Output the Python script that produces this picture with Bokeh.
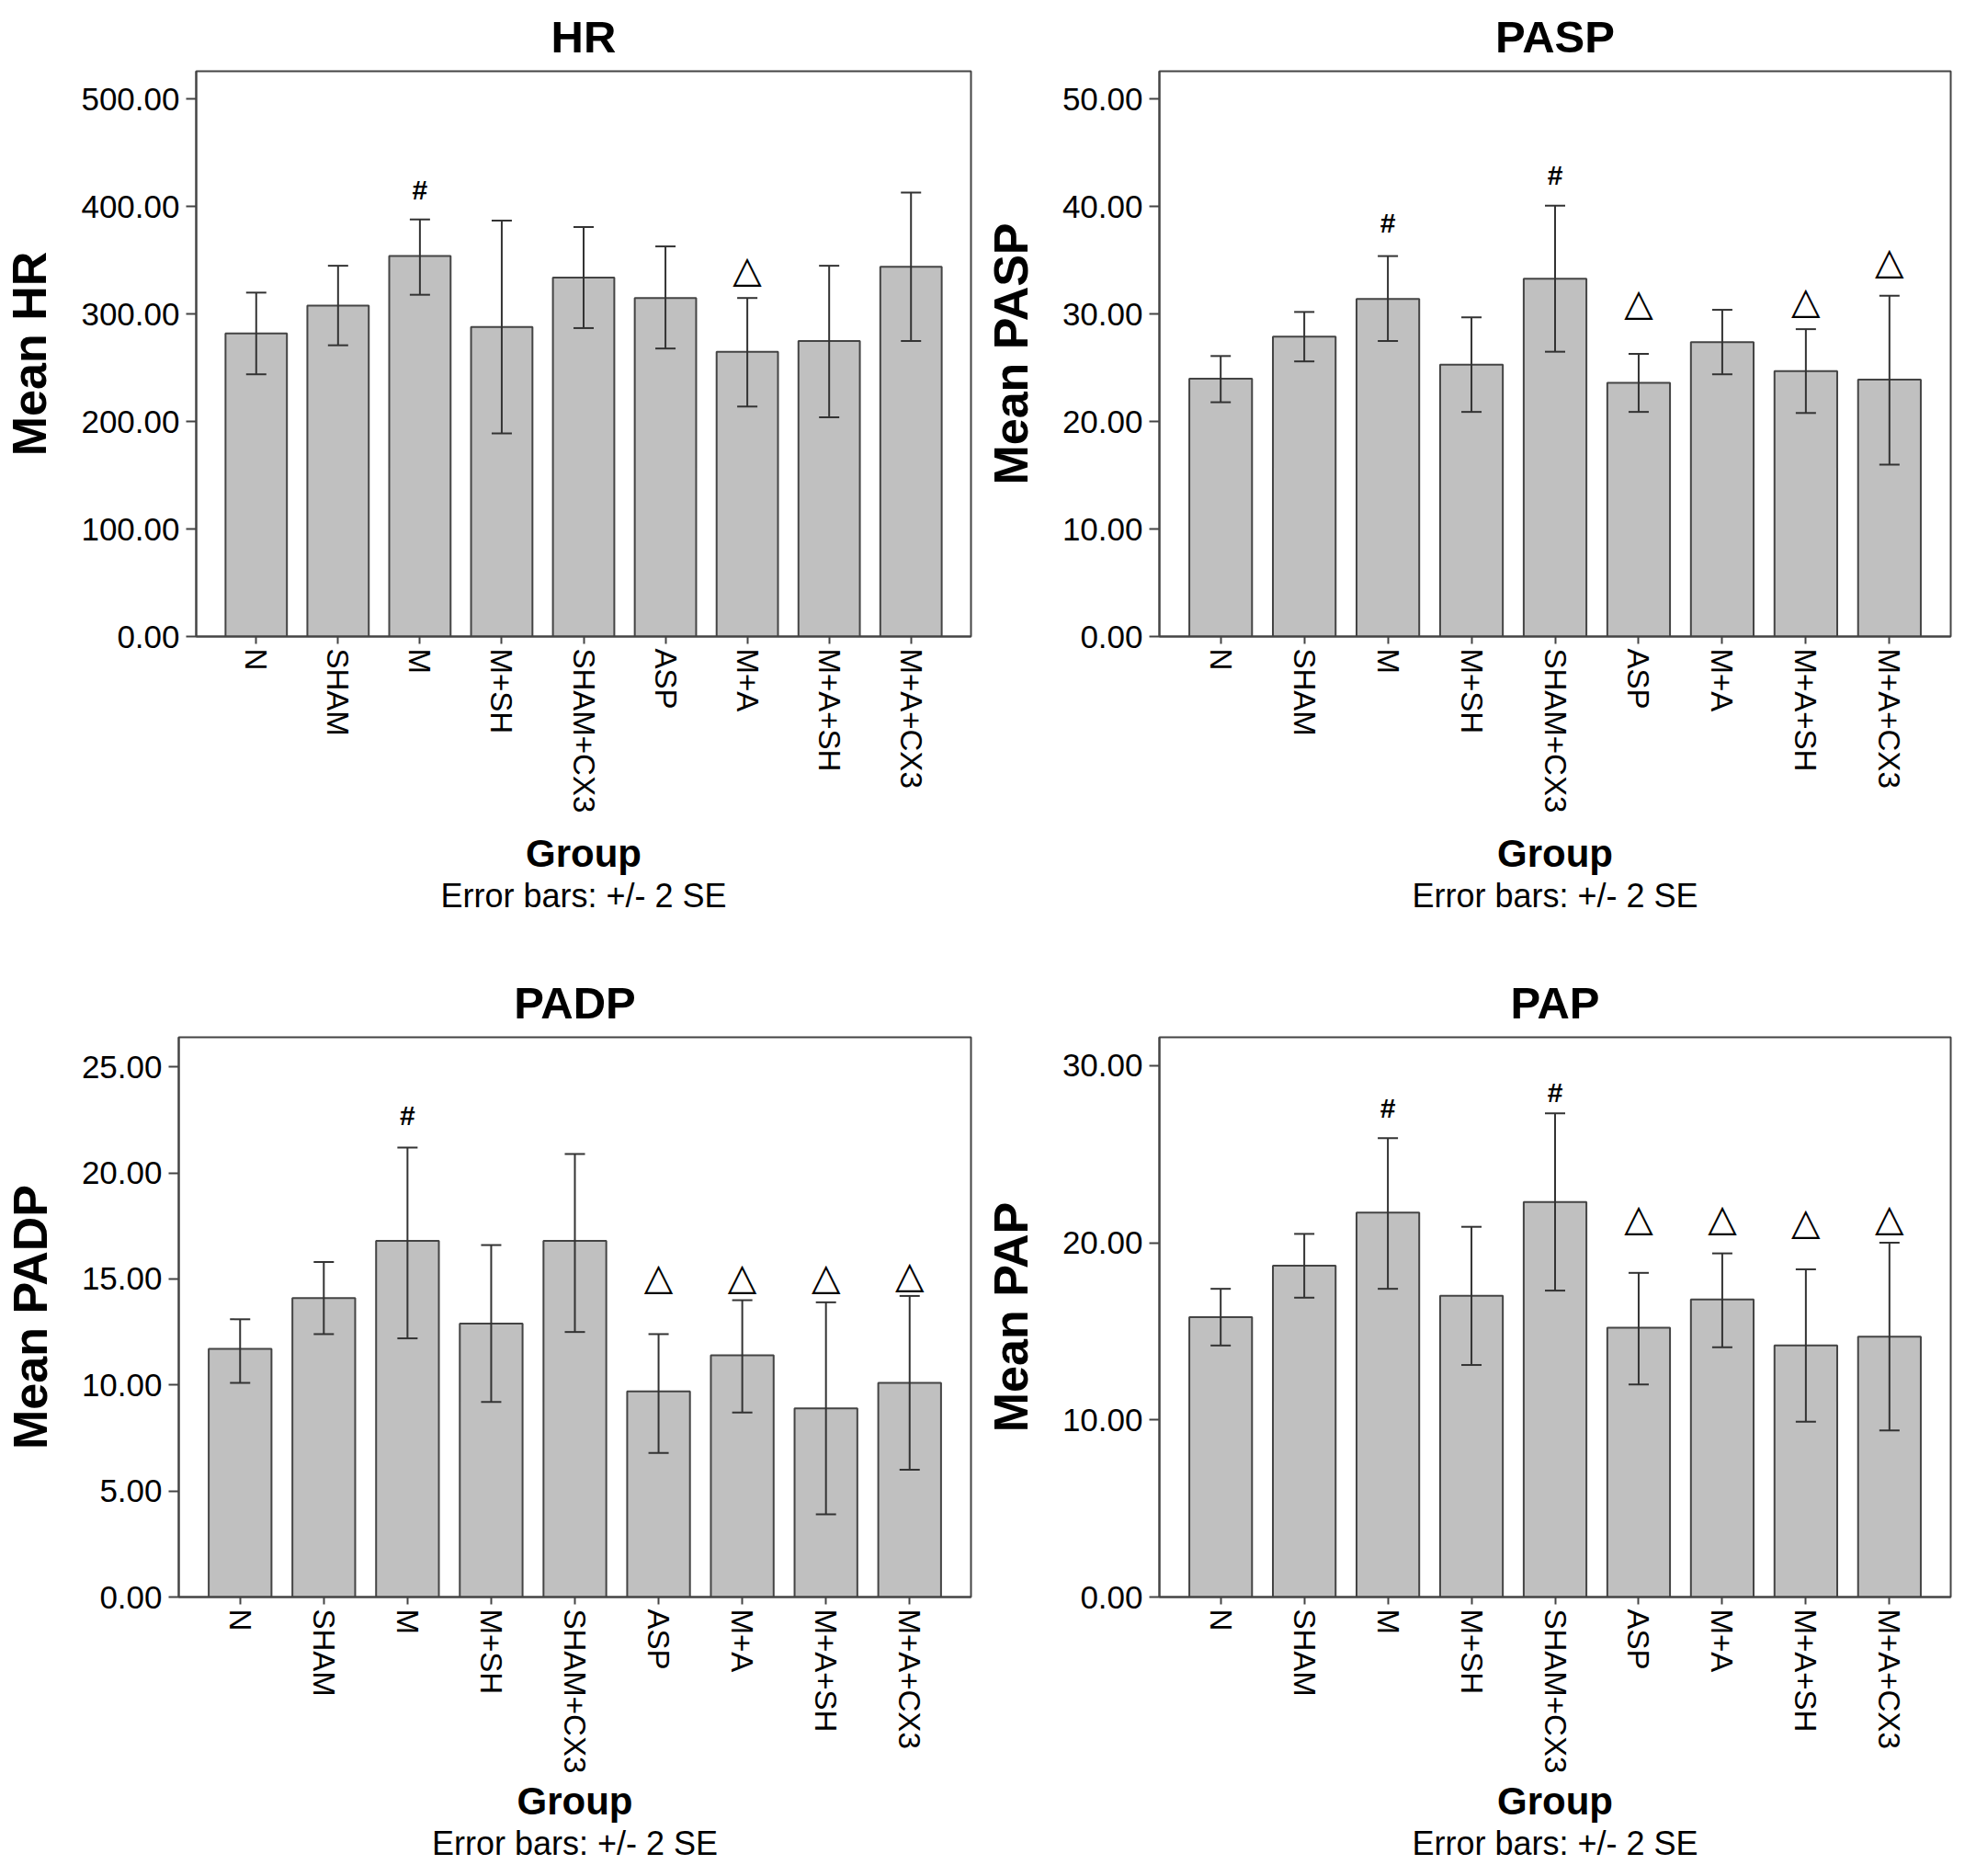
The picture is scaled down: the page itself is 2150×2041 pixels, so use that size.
import math
from bokeh.plotting import figure
from bokeh.layouts import column, row
from bokeh.models import ColumnDataSource, Whisker, TeeHead, FixedTicker, NumeralTickFormatter, Range1d, Title
from bokeh.core.properties import value
from bokeh.embed import file_html
from bokeh.resources import INLINE

groups = ["N", "SHAM", "M", "M+SH", "SHAM+CX3", "ASP", "M+A", "M+A+SH", "M+A+CX3"]

# HR
hr_mean = [282, 308, 354, 288, 334, 315, 265, 275, 344]
hr_upper = [320, 345, 388, 387, 381, 363, 315, 345, 413]
hr_lower = [244, 271, 318, 189, 287, 268, 214, 204, 275]
hr_ticks = [0, 100, 200, 300, 400, 500]
hr_mark_idx = [2, 6]
hr_mark_sym = ["#", "△"]
hr_mark_y = [416, 342]

# PASP
pasp_mean = [24.0, 27.9, 31.4, 25.3, 33.3, 23.6, 27.4, 24.7, 23.9]
pasp_upper = [26.1, 30.2, 35.4, 29.7, 40.1, 26.3, 30.4, 28.6, 31.7]
pasp_lower = [21.8, 25.6, 27.5, 20.9, 26.5, 20.9, 24.4, 20.8, 16.0]
pasp_ticks = [0, 10, 20, 30, 40, 50]
pasp_mark_idx = [2, 4, 5, 7, 8]
pasp_mark_sym = ["#", "#", "△", "△", "△"]
pasp_mark_y = [38.5, 42.9, 31.1, 31.3, 34.9]

# PADP
padp_mean = [11.7, 14.1, 16.8, 12.9, 16.8, 9.7, 11.4, 8.9, 10.1]
padp_upper = [13.1, 15.8, 21.2, 16.6, 20.9, 12.4, 14.0, 13.9, 14.2]
padp_lower = [10.1, 12.4, 12.2, 9.2, 12.5, 6.8, 8.7, 3.9, 6.0]
padp_ticks = [0, 5, 10, 15, 20, 25]
padp_mark_idx = [2, 5, 6, 7, 8]
padp_mark_sym = ["#", "△", "△", "△", "△"]
padp_mark_y = [22.7, 15.1, 15.1, 15.1, 15.2]

# PAP
pap_mean = [15.8, 18.7, 21.7, 17.0, 22.3, 15.2, 16.8, 14.2, 14.7]
pap_upper = [17.4, 20.5, 25.9, 20.9, 27.3, 18.3, 19.4, 18.5, 20.0]
pap_lower = [14.2, 16.9, 17.4, 13.1, 17.3, 12.0, 14.1, 9.9, 9.4]
pap_ticks = [0, 10, 20, 30]
pap_mark_idx = [2, 4, 5, 6, 7, 8]
pap_mark_sym = ["#", "#", "△", "△", "△", "△"]
pap_mark_y = [27.6, 28.5, 21.4, 21.4, 21.2, 21.4]

FONT = "Liberation Sans"
EDGE = "#444444"


def make_panel(name, mean, upper, lower, ticks, ytop, mark_idx, mark_sym, mark_y,
               w, h, bl, br, bt, bb, group_gap, note_gap):
    p = figure(width=w, height=h, output_backend="svg", toolbar_location=None,
               x_range=Range1d(-0.733, 8.733), y_range=Range1d(0, ytop),
               min_border_left=bl, min_border_right=br, min_border_top=bt, min_border_bottom=bb)
    p.title.text = name
    p.title.align = "center"
    p.title.text_font = FONT
    p.title.text_font_size = "49px"
    p.title.text_font_style = "bold"
    p.title.text_color = "black"
    p.title.standoff = 21
    p.xgrid.visible = False
    p.ygrid.visible = False
    p.outline_line_color = EDGE
    p.outline_line_width = 2

    x = list(range(len(groups)))
    src = ColumnDataSource(dict(x=x, mean=mean, upper=upper, lower=lower))
    p.vbar(x="x", top="mean", width=0.75, source=src, fill_color="#c0c0c0",
           line_color=EDGE, line_width=2)
    p.add_layout(Whisker(source=src, base="x", upper="upper", lower="lower", level="annotation",
                         line_color="#333333", line_width=2,
                         upper_head=TeeHead(size=22, line_color="#333333", line_width=2),
                         lower_head=TeeHead(size=22, line_color="#333333", line_width=2)))

    hx = [i for i, s in zip(mark_idx, mark_sym) if s == "#"]
    hy = [v for v, s in zip(mark_y, mark_sym) if s == "#"]
    tx = [i for i, s in zip(mark_idx, mark_sym) if s != "#"]
    ty = [v for v, s in zip(mark_y, mark_sym) if s != "#"]
    if hx:
        p.text(x=hx, y=hy, text=["#"] * len(hx), text_font=value(FONT), text_font_style="bold",
               text_font_size="30px", text_align="center", text_baseline="middle", text_color="black")
    if tx:
        p.text(x=tx, y=ty, text=["△"] * len(tx), text_font=value("DejaVu Sans"),
               text_font_size="41px", text_align="center", text_baseline="middle", text_color="black")

    p.yaxis.ticker = FixedTicker(ticks=ticks)
    p.yaxis.formatter = NumeralTickFormatter(format="0.00")
    p.yaxis.axis_label = "Mean " + name
    p.yaxis.axis_label_standoff = 24
    p.xaxis.ticker = FixedTicker(ticks=x)
    p.xaxis.major_label_overrides = {i: g for i, g in enumerate(groups)}
    p.xaxis.major_label_orientation = -math.pi / 2
    p.xaxis.axis_label = "Group"
    p.xaxis.axis_label_standoff = group_gap
    for ax in (p.xaxis[0], p.yaxis[0]):
        ax.axis_line_color = EDGE
        ax.axis_line_width = 2
        ax.major_tick_line_color = EDGE
        ax.major_tick_line_width = 2
        ax.major_tick_in = 0
        ax.minor_tick_line_color = None
        ax.major_label_text_font = FONT
        ax.major_label_text_color = "black"
        ax.axis_label_text_font = FONT
        ax.axis_label_text_font_style = "bold"
        ax.axis_label_text_color = "black"
    p.yaxis.major_label_text_font_size = "35px"
    p.xaxis.major_label_text_font_size = "33px"
    p.yaxis.major_tick_out = 11
    p.yaxis.major_label_standoff = 7
    p.xaxis.major_tick_out = 8
    p.xaxis.major_label_standoff = 5
    p.yaxis.axis_label_text_font_size = "52px"
    p.xaxis.axis_label_text_font_size = "42px"

    note = Title(text="Error bars: +/- 2 SE", align="center", text_font=FONT,
                 text_font_size="36px", text_font_style="normal", text_color="black",
                 standoff=note_gap)
    p.add_layout(note, "below")
    return p


p1 = make_panel("HR", hr_mean, hr_upper, hr_lower, hr_ticks, 526,
                hr_mark_idx, hr_mark_sym, hr_mark_y, 1067, 1032, 203, 11, 77, 340, 18, -8)
p2 = make_panel("PASP", pasp_mean, pasp_upper, pasp_lower, pasp_ticks, 52.6,
                pasp_mark_idx, pasp_mark_sym, pasp_mark_y, 1059, 1032, 189, 4, 77, 340, 18, -8)
p3 = make_panel("PADP", padp_mean, padp_upper, padp_lower, padp_ticks, 26.4,
                padp_mark_idx, padp_mark_sym, padp_mark_y, 1067, 993, 191, 11, 96, 288, 4, -8)
p4 = make_panel("PAP", pap_mean, pap_upper, pap_lower, pap_ticks, 31.6,
                pap_mark_idx, pap_mark_sym, pap_mark_y, 1059, 993, 189, 4, 96, 288, 4, -8)

layout = column(row(p1, p2, spacing=0), row(p3, p4, spacing=0), spacing=0)

open("out.html", "w").write(file_html(layout, INLINE))
